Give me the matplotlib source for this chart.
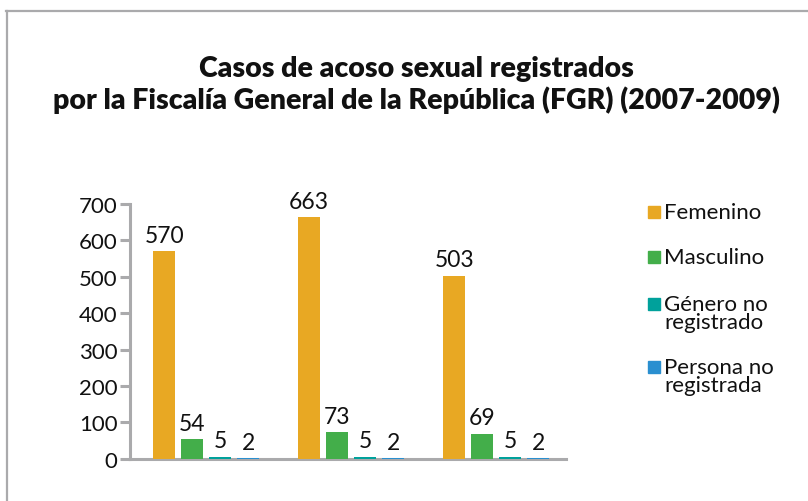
import numpy as np
import matplotlib.pyplot as plt
from matplotlib.patches import Rectangle
from matplotlib.lines import Line2D

plt.rcParams['font.family'] = ['Lato', 'DejaVu Sans']

years = ["2007", "2008", "2009"]
series = ["Femenino", "Masculino", "Género no\nregistrado", "Persona no\nregistrada"]
femenino = [570, 663, 503]
masculino = [54, 73, 69]
genero_nr = [5, 5, 5]
persona_nr = [2, 2, 2]
colors = ["#E8A823", "#43AE4A", "#00A19B", "#2A8FD0"]

values = [femenino, masculino, genero_nr, persona_nr]

fig = plt.figure(figsize=(8.08, 5.02), dpi=100)
ax = fig.add_axes([0.161, 0.084, 0.540, 0.508])

x = np.arange(len(years))
step = 0.193
width = 0.152
for i, (vals, col) in enumerate(zip(values, colors)):
    pos = x + (i - 1.5) * step
    ax.bar(pos, vals, width=width, color=col, zorder=3)
    for px, v in zip(pos, vals):
        ax.annotate(str(v), (px, v), xytext=(0, 4), textcoords="offset points",
                    ha="center", va="bottom", fontsize=16.5, color="#111111")

ax.set_ylim(0, 700)
ax.set_xlim(-0.524, 2.483)
ax.set_yticks(range(0, 701, 100))
ax.set_xticks([])
for s in ["top", "right"]:
    ax.spines[s].set_visible(False)
for s in ["left", "bottom"]:
    ax.spines[s].set_color("#AAAAAC")
    ax.spines[s].set_linewidth(2.2)
ax.tick_params(axis="y", length=7, width=2.2, color="#AAAAAC",
               labelsize=16, labelcolor="#111111", pad=2)

# title
fig.text(0.515, 0.83, "Casos de acoso sexual registrados\npor la Fiscalía General de la República (FGR) (2007-2009)",
         ha="center", va="center", fontsize=20.5, fontweight="heavy",
         linespacing=1.2, color="#111111")

# legend drawn by hand
leg_y = [213, 258, 305, 368]
for lab, col, yy in zip(series, colors, leg_y):
    fy = 1 - yy / 502
    fig.patches.append(Rectangle((648 / 808, fy - 6 / 502), 12 / 808, 12 / 502,
                                 transform=fig.transFigure, color=col))
    fig.text(664 / 808, fy + 10 / 502, lab, ha="left", va="top", fontsize=16,
             linespacing=0.9, color="#111111")

# frame
fig.add_artist(Line2D([7 / 808, 7 / 808], [0, 1 - 12 / 502], transform=fig.transFigure,
                      color="#AAAAAC", lw=1.6))
fig.add_artist(Line2D([6.2 / 808, 1], [1 - 12 / 502, 1 - 12 / 502], transform=fig.transFigure,
                      color="#AAAAAC", lw=1.6))

fig.savefig("out.png", dpi=100)
